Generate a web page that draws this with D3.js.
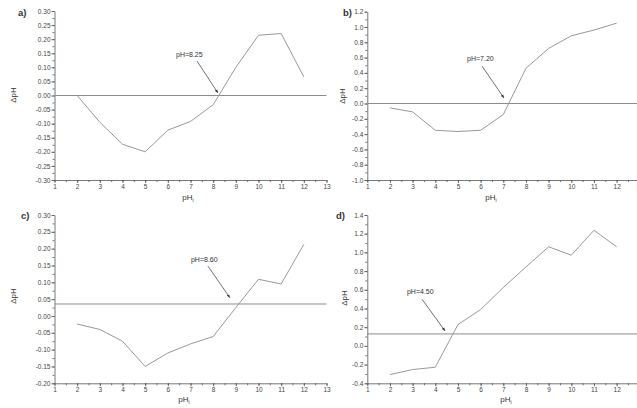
<!DOCTYPE html>
<html>
<head>
<meta charset="utf-8">
<script src="https://cdn.jsdelivr.net/npm/d3@7"></script>
<style>
  body { margin: 0; background: #fff; }
  svg { display: block; font-family: "Liberation Sans", Arial, sans-serif; }
</style>
</head>
<body>
<svg id="chart" width="637" height="408"></svg>
<script>
// pH values (x) shared by all panels
const phInitial = [2, 3, 4, 5, 6, 7, 8, 9, 10, 11, 12];

// delta pH for each panel
const deltaA = [0.00, -0.095, -0.173, -0.200, -0.123, -0.092, -0.033, 0.100, 0.214, 0.220, 0.066];
const deltaB = [-0.057, -0.11, -0.35, -0.366, -0.35, -0.144, 0.46, 0.72, 0.885, 0.96, 1.05];
const deltaC = [-0.024, -0.040, -0.075, -0.150, -0.110, -0.083, -0.061, 0.025, 0.109, 0.095, 0.213];
const deltaD = [-0.307, -0.253, -0.228, 0.228, 0.389, 0.624, 0.845, 1.06, 0.97, 1.237, 1.06];

// reference (horizontal) line level for each panel
const refLevels = [0.0, 0.0, 0.0356, 0.128];

// annotation labels
const pzcLabels = ['pH=8.25', 'pH=7.20', 'pH=8.60', 'pH=4.50'];
const panelLabels = ['a)', 'b)', 'c)', 'd)'];

// y axis domains and tick steps
const yDomains = [[-0.30, 0.30], [-1.0, 1.2], [-0.20, 0.30], [-0.4, 1.4]];
const yStepsMajor = [0.05, 0.2, 0.05, 0.2];
const xDomain = [1, 13];

// annotation geometry in data units: text anchor and arrow start/end
const annoText = [[6.36, 0.135], [5.40, 0.56], [7.02, 0.16], [2.75, 0.55]];
const annoArrow = [
    [[7.29, 0.122], [8.21, 0.009]],
    [[6.06, 0.49], [7.03, 0.072]],
    [[7.77, 0.148], [8.74, 0.054]],
    [[3.41, 0.50], [4.43, 0.16]]
];

// layout of the 4 panels (pixels)
const panels = [
    { left: 54.5, right: 326.5, top: 11, bottom: 180, lab: [18, 16], ylab: [12.5, 95], xlab: [188, 200] },
    { left: 367.3, right: 639.3, top: 11.7, bottom: 180, lab: [343, 16], ylab: [341.5, 96], xlab: [491, 200] },
    { left: 54.5, right: 326.5, top: 215, bottom: 383.3, lab: [21, 219], ylab: [12.5, 296], xlab: [184, 402] },
    { left: 367.3, right: 639.3, top: 215, bottom: 383.3, lab: [336, 219], ylab: [343.5, 298], xlab: [506, 402] }
];

const series = [deltaA, deltaB, deltaC, deltaD];
const decimals = [2, 1, 2, 1];

const svg = d3.select('#chart');

svg.append('defs').append('marker')
    .attr('id', 'arrow')
    .attr('viewBox', '0 0 10 10')
    .attr('refX', 10)
    .attr('refY', 5)
    .attr('markerWidth', 5)
    .attr('markerHeight', 5)
    .attr('orient', 'auto')
    .append('path')
    .attr('d', 'M0,1 L10,5 L0,9 z')
    .attr('fill', '#333');

function range(lo, hi, step) {
    const out = [];
    const n = Math.round((hi - lo) / step);
    for (let i = 0; i <= n; i++) out.push(+(lo + i * step).toFixed(4));
    return out;
}

panels.forEach((p, k) => {
    const x = d3.scaleLinear().domain(xDomain).range([p.left, p.right]);
    const y = d3.scaleLinear().domain(yDomains[k]).range([p.bottom, p.top]);
    const g = svg.append('g');

    const yMajor = range(yDomains[k][0], yDomains[k][1], yStepsMajor[k]);
    const yMinor = range(yDomains[k][0], yDomains[k][1], yStepsMajor[k] / 2);
    const xMajor = range(1, 13, 1);
    const xMinor = range(1, 13, 0.5);

    // minor ticks
    g.append('g')
        .attr('transform', `translate(${p.left},0)`)
        .call(d3.axisLeft(y).tickValues(yMinor).tickSize(2).tickFormat(''))
        .call(s => s.select('.domain').remove());
    g.append('g')
        .attr('transform', `translate(0,${p.bottom})`)
        .call(d3.axisBottom(x).tickValues(xMinor).tickSize(2).tickFormat(''))
        .call(s => s.select('.domain').remove());

    // major axes
    g.append('g')
        .attr('transform', `translate(${p.left},0)`)
        .call(d3.axisLeft(y).tickValues(yMajor).tickSize(3).tickSizeOuter(0).tickPadding(1)
            .tickFormat(d => d3.format(`.${decimals[k]}f`)(d).replace('−', '-')));
    g.append('g')
        .attr('transform', `translate(0,${p.bottom})`)
        .call(d3.axisBottom(x).tickValues(xMajor).tickSize(3).tickSizeOuter(0).tickPadding(1));

    g.selectAll('.tick line, .domain').attr('stroke', '#555').attr('stroke-width', 0.8);
    g.selectAll('.tick text').attr('fill', '#444').attr('font-size', 6.5)
        .attr('font-family', '"Liberation Sans", Arial, sans-serif');

    // horizontal reference line
    g.append('line')
        .attr('x1', x(1)).attr('x2', x(13))
        .attr('y1', y(refLevels[k])).attr('y2', y(refLevels[k]))
        .attr('stroke', '#8c8c8c').attr('stroke-width', 1);

    // data line
    const line = d3.line().x((d, i) => x(phInitial[i])).y(d => y(d));
    g.append('path')
        .datum(series[k])
        .attr('d', line)
        .attr('fill', 'none')
        .attr('stroke', '#999')
        .attr('stroke-width', 1);

    // annotation
    g.append('text')
        .attr('x', x(annoText[k][0])).attr('y', y(annoText[k][1]))
        .attr('font-size', 7).attr('fill', '#333')
        .text(pzcLabels[k]);
    g.append('line')
        .attr('x1', x(annoArrow[k][0][0])).attr('y1', y(annoArrow[k][0][1]))
        .attr('x2', x(annoArrow[k][1][0])).attr('y2', y(annoArrow[k][1][1]))
        .attr('stroke', '#333').attr('stroke-width', 0.7)
        .attr('marker-end', 'url(#arrow)');

    // panel label
    g.append('text')
        .attr('x', p.lab[0]).attr('y', p.lab[1])
        .attr('font-size', 9.5).attr('font-weight', 'bold').attr('fill', '#333')
        .text(panelLabels[k]);

    // y label
    g.append('text')
        .attr('transform', `translate(${p.ylab[0] + 3},${p.ylab[1]}) rotate(-90)`)
        .attr('text-anchor', 'middle')
        .attr('font-size', 8).attr('fill', '#333')
        .text('ΔpH');

    // x label pH with subscript i
    const xl = g.append('text')
        .attr('x', p.xlab[0]).attr('y', p.xlab[1])
        .attr('text-anchor', 'middle')
        .attr('font-size', 8).attr('fill', '#333');
    xl.append('tspan').text('pH');
    xl.append('tspan').attr('font-size', 5).attr('dy', 2).text('i');
});
</script>
</body>
</html>
